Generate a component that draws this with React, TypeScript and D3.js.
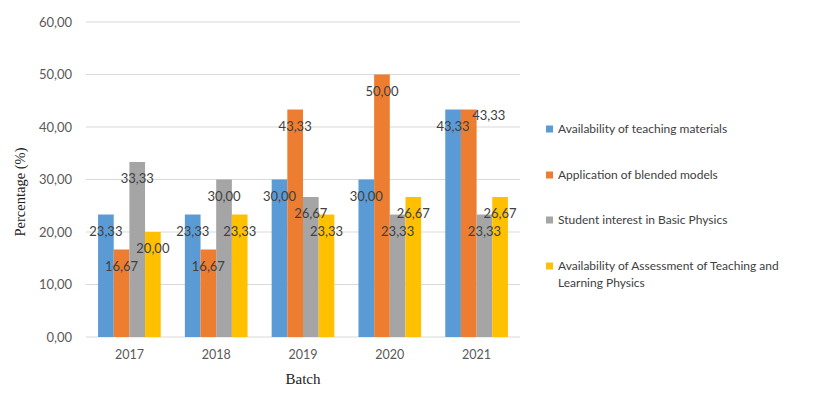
import React, { useEffect, useRef } from "react";
import * as d3 from "d3";

const batches = ["2017", "2018", "2019", "2020", "2021"];
const seriesNames = [
  "Availability of teaching materials",
  "Application of blended models",
  "Student interest in Basic Physics",
  "Availability of Assessment of Teaching and Learning Physics",
];
const teachingMaterials = [23.33, 23.33, 30.0, 30.0, 43.33];
const blendedModels = [16.67, 16.67, 43.33, 50.0, 43.33];
const studentInterest = [33.33, 30.0, 26.67, 23.33, 23.33];
const assessment = [20.0, 23.33, 23.33, 26.67, 26.67];
const yTicks = [0, 10, 20, 30, 40, 50, 60];

const colors = ["#5B9BD5", "#ED7D31", "#A5A5A5", "#FFC000"];
const legendLines = [
  ["Availability of teaching materials"],
  ["Application of blended models"],
  ["Student interest in Basic Physics"],
  ["Availability of Assessment of Teaching and", "Learning Physics"],
];

// a label that was dragged by hand in the original: series index, batch index, dx, dy
const labelNudges: [number, number, number, number][] = [[1, 4, 20, -11]];

const fmt = (v: number) => v.toFixed(2).replace(".", ",");

export default function App() {
  const ref = useRef<SVGSVGElement>(null);

  useEffect(() => {
    const W = 813;
    const H = 401;
    const left = 86;
    const right = 520;
    const top = 22;
    const bottom = 337;
    const sans = "Lato, 'Open Sans', sans-serif";
    const serif = "'Liberation Serif', 'DejaVu Serif', serif";

    const values = [teachingMaterials, blendedModels, studentInterest, assessment];

    const svg = d3.select(ref.current);
    svg.selectAll("*").remove();
    svg.attr("width", W).attr("height", H);
    svg.append("rect").attr("width", W).attr("height", H).attr("fill", "#fff");

    const x = d3
      .scaleBand()
      .domain(batches)
      .range([left, right])
      .paddingInner(0.278)
      .paddingOuter(0.139);
    const xs = d3
      .scaleBand()
      .domain(seriesNames)
      .range([0, x.bandwidth()]);
    const y = d3.scaleLinear().domain([0, 60]).range([bottom, top]);

    // gridlines
    svg
      .append("g")
      .selectAll("line")
      .data(yTicks)
      .enter()
      .append("line")
      .attr("x1", left)
      .attr("x2", right)
      .attr("y1", (d) => y(d))
      .attr("y2", (d) => y(d))
      .attr("stroke", "#D9D9D9")
      .attr("stroke-width", 1);

    svg
      .append("g")
      .selectAll("text")
      .data(yTicks)
      .enter()
      .append("text")
      .attr("x", 72)
      .attr("y", (d) => y(d))
      .attr("dy", "0.35em")
      .attr("text-anchor", "end")
      .attr("font-family", sans)
      .attr("font-size", 13)
      .attr("fill", "#595959")
      .text((d) => fmt(d));

    // bars
    values.forEach((vals, si) => {
      const g = svg.append("g");
      g.selectAll("rect")
        .data(vals)
        .enter()
        .append("rect")
        .attr("x", (_, i) => x(batches[i])! + xs(seriesNames[si])!)
        .attr("y", (d) => y(d))
        .attr("width", xs.bandwidth())
        .attr("height", (d) => bottom - y(d))
        .attr("fill", colors[si]);
    });

    // data labels
    values.forEach((vals, si) => {
      const g = svg.append("g");
      g.selectAll("text")
        .data(vals)
        .enter()
        .append("text")
        .attr("x", (_, i) => {
          const n = labelNudges.find((l) => l[0] === si && l[1] === i);
          return x(batches[i])! + xs(seriesNames[si])! + xs.bandwidth() / 2 + (n ? n[2] : 0);
        })
        .attr("y", (d, i) => {
          const n = labelNudges.find((l) => l[0] === si && l[1] === i);
          return y(d) + 16.5 + (n ? n[3] : 0);
        })
        .attr("dy", "0.35em")
        .attr("text-anchor", "middle")
        .attr("font-family", sans)
        .attr("font-size", 13)
        .attr("fill", "#404040")
        .text((d) => fmt(d));
    });

    // x tick labels
    svg
      .append("g")
      .selectAll("text")
      .data(batches)
      .enter()
      .append("text")
      .attr("x", (d) => x(d)! + x.bandwidth() / 2)
      .attr("y", 355)
      .attr("dy", "0.35em")
      .attr("text-anchor", "middle")
      .attr("font-family", sans)
      .attr("font-size", 12.5)
      .attr("fill", "#595959")
      .text((d) => d);

    // axis titles
    svg
      .append("text")
      .attr("x", (left + right) / 2)
      .attr("y", 379)
      .attr("dy", "0.35em")
      .attr("text-anchor", "middle")
      .attr("font-family", serif)
      .attr("font-size", 15)
      .attr("fill", "#222")
      .text("Batch");

    svg
      .append("text")
      .attr("transform", "translate(20, 192) rotate(-90)")
      .attr("dy", "0.35em")
      .attr("text-anchor", "middle")
      .attr("font-family", serif)
      .attr("font-size", 14.5)
      .attr("fill", "#222")
      .text("Percentage (%)");

    // legend
    const legendY = [129, 175, 220, 266];
    const legend = svg
      .append("g")
      .selectAll("g")
      .data(legendLines)
      .enter()
      .append("g")
      .attr("transform", (_, i) => `translate(546, ${legendY[i]})`);
    legend
      .append("rect")
      .attr("x", 0)
      .attr("y", -3.5)
      .attr("width", 7)
      .attr("height", 7)
      .attr("fill", (_, i) => colors[i]);
    legend
      .append("text")
      .attr("font-family", sans)
      .attr("font-size", 12)
      .attr("fill", "#404040")
      .selectAll("tspan")
      .data((d) => d)
      .enter()
      .append("tspan")
      .attr("x", 12)
      .attr("y", (_, j) => j * 17)
      .attr("dy", "0.35em")
      .text((d) => d);
  }, []);

  return (
    <div style={{ position: "fixed", left: 0, top: 0 }}>
      <svg ref={ref} style={{ display: "block" }} />
    </div>
  );
}
